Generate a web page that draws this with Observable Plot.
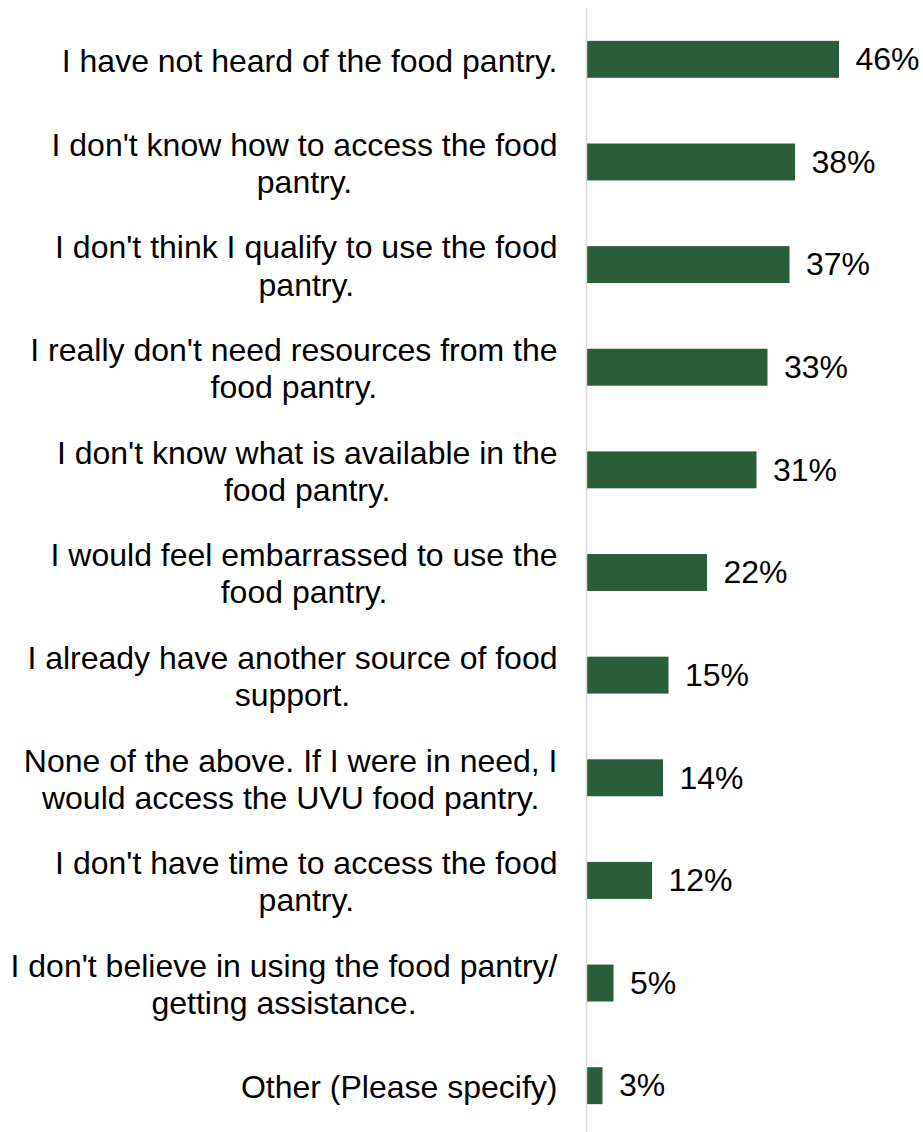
<!DOCTYPE html>
<html>
<head>
<meta charset="utf-8">
<script src="https://cdn.jsdelivr.net/npm/d3@7"></script>
<script src="https://cdn.jsdelivr.net/npm/@observablehq/plot@0.6"></script>
<style>
  html, body { margin: 0; padding: 0; background: #ffffff; }
  #chart { width: 923px; height: 1132px; overflow: hidden; }
</style>
</head>
<body>
<div id="chart"></div>
<script>
const labels = [
  "I have not heard of the food pantry.",
  "I don't know how to access the food\npantry.",
  "I don't think I qualify to use the food\npantry.",
  "I really don't need resources from the\nfood pantry.",
  "I don't know what is available in the\nfood pantry.",
  "I would feel embarrassed to use the\nfood pantry.",
  "I already have another source of food\nsupport.",
  "None of the above. If I were in need, I\nwould access the UVU food pantry.",
  "I don't have time to access the food\npantry.",
  "I don't believe in using the food pantry/\ngetting assistance.",
  "Other (Please specify)"
];
const values = [46, 38, 37, 33, 31, 22, 15, 14, 12, 5, 3];

const data = labels.map((label, i) => ({label, value: values[i]}));
const FONT = "'Liberation Sans', Arial, Helvetica, sans-serif";

const chart = Plot.plot({
  width: 923,
  height: 1132,
  marginLeft: 586,
  marginRight: 62,
  marginTop: 8,
  marginBottom: 0,
  style: {fontFamily: FONT, fontSize: "32px", color: "#000", background: "#fff"},
  x: {domain: [0, 50], axis: null},
  y: {domain: labels, range: [8, 1137], paddingInner: 0.64, paddingOuter: 0.32, round: false, axis: null},
  marks: [
    Plot.text(data, {
      x: () => 0, y: "label", text: "label",
      textAnchor: "end", dx: -29, lineHeight: 1.16,
      fontSize: 32, fill: "#000"
    }),
    Plot.barX(data, {x: "value", y: "label", fill: "#2a5e3a", insetLeft: 1}),
    Plot.ruleX([0], {stroke: "#d9d9d9", strokeWidth: 1.5}),
    Plot.text(data, {
      x: "value", y: "label", text: d => d.value + "%",
      textAnchor: "start", dx: 16, fontSize: 32, fill: "#000"
    })
  ]
});
document.getElementById("chart").appendChild(chart);

// Center each multi-line category label within its own block (right edge fixed)
const labelGroup = chart.querySelector('g[aria-label="text"]');
if (labelGroup) {
  labelGroup.querySelectorAll("text").forEach(t => {
    const w = t.getBBox().width;
    t.setAttribute("text-anchor", "middle");
    const tr = t.getAttribute("transform") || "";
    t.setAttribute("transform", tr + ` translate(${-w / 2},0)`);
  });
}
</script>
</body>
</html>
